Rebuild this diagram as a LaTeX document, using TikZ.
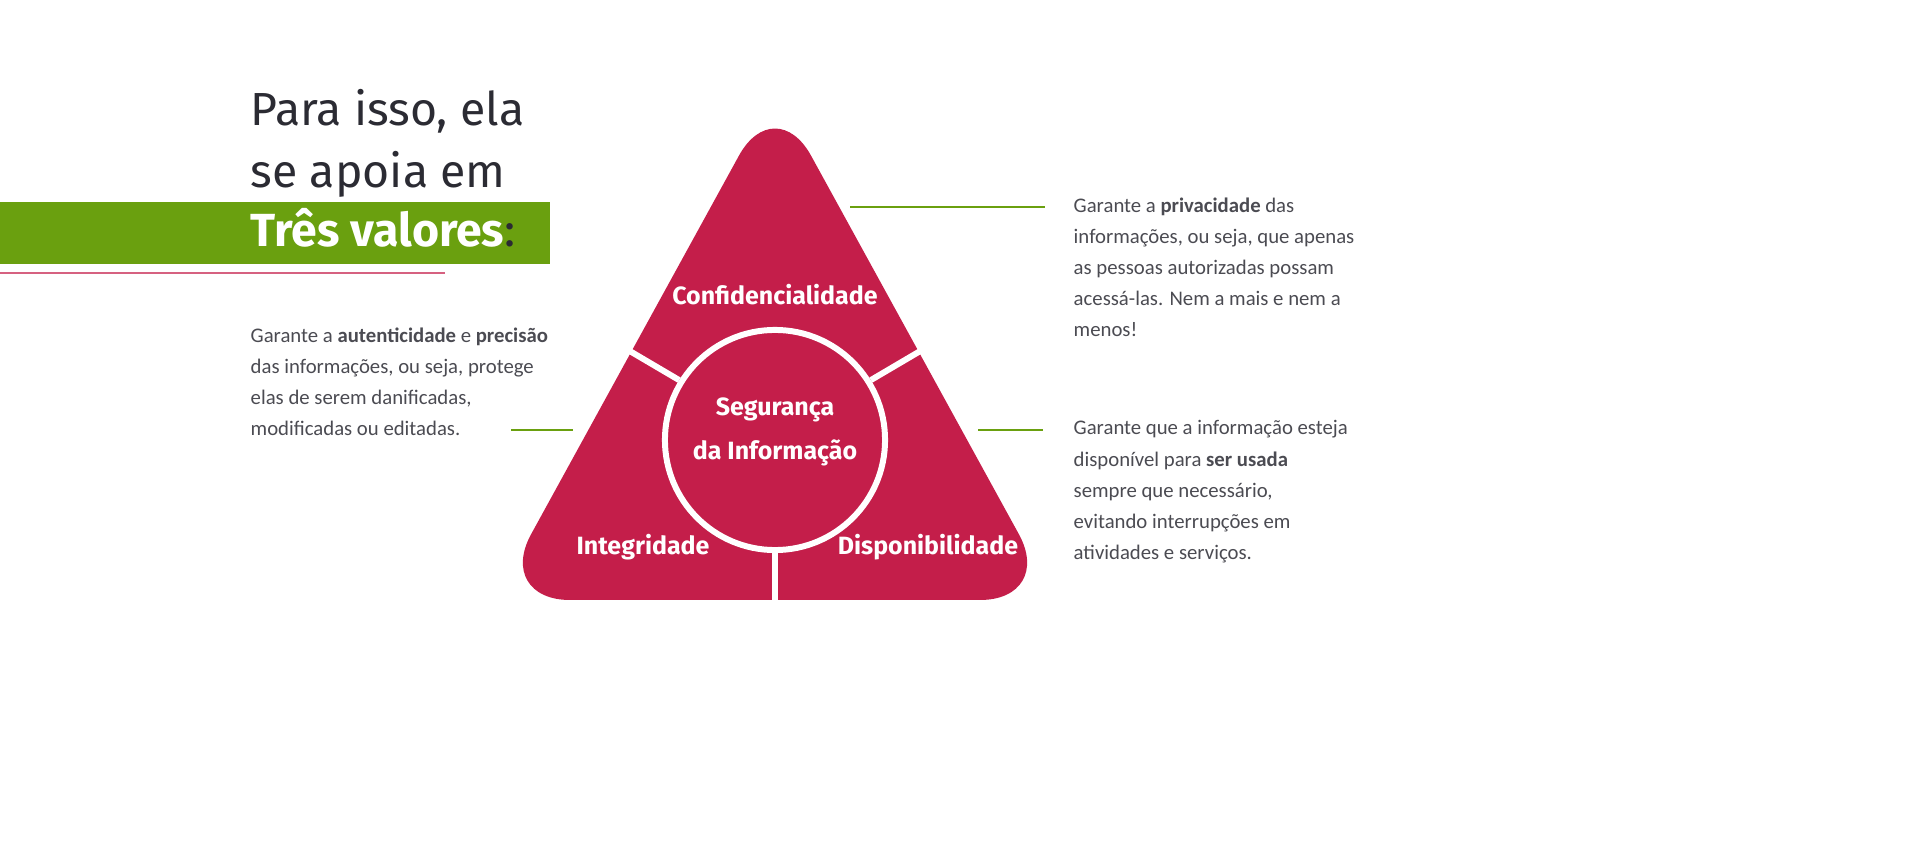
\documentclass[tikz,border=0pt]{standalone}
\usepackage{fontspec}
\setmainfont{Carlito}
\newfontfamily\headfont{Fira Sans}
\usetikzlibrary{positioning}
\definecolor{crimson}{HTML}{C41E4A}
\definecolor{leaf}{HTML}{6AA00F}
\definecolor{ink}{HTML}{2B2B33}
\tikzset{
  body/.style={anchor=north west, align=left, inner sep=0pt, text=ink!85,
    font=\fontsize{5.9pt}{8.85pt}\selectfont},
  piece/.style={text=white, font=\headfont\bfseries\fontsize{7.1pt}{9.6pt}\selectfont},
  heading/.style={anchor=base west, inner sep=0pt, text=ink, font=\headfont\fontsize{13.2pt}{16pt}\selectfont},
  divider/.style={white, line width=1.7pt},
  lead/.style={leaf, line width=0.6pt}
}
\begin{document}
\begin{tikzpicture}[x=0.01cm,y=-0.01cm]
\useasboundingbox (0,0) rectangle (1917,855);

% heading
\node[heading] (title1) at (250,126) {Para isso, ela};
\node[heading] (title2) at (250,188) {se apoia em};
\fill[leaf] (0,202) rectangle (550,264);
\node[heading, font=\headfont\bfseries\fontsize{13.2pt}{16pt}\selectfont] (title3) at (250,247) {\textcolor{white}{Três valores}\textcolor{ink}{\mdseries:}};
\draw[crimson!70, line width=0.5pt] (0,273) -- (445,273);

% triangle
\fill[crimson, rounded corners=0.75cm] (775,90) -- (1055,600) -- (495,600) -- cycle;
\node[circle, draw=white, line width=1.7pt, minimum size=2.2cm, fill=crimson] (core) at (775,440) {};
\node[piece, align=center] (coreText) at (775,432) {Segurança\\[3pt]da Informação};
\coordinate (cutL) at (628,350);
\coordinate (cutR) at (922,350);
\coordinate (cutB) at (775,602);
\draw[divider] (core.148) -- (cutL);
\draw[divider] (core.32) -- (cutR);
\draw[divider] (core.south) -- (cutB);
\node[piece] (conf) at (775,295) {Confidencialidade};
\node[piece] (integ) at (643,547) {Integridade};
\node[piece] (disp) at (928,547) {Disponibilidade};

% left text
\node[body] (integText) at (250,327) {Garante a \textbf{autenticidade} e \textbf{precisão}\\das informações, ou seja, protege\\elas de serem danificadas,\\modificadas ou editadas.};
\coordinate (integA) at (511,430);
\coordinate (integB) at (573,430);
\draw[lead] (integA) -- (integB);

% right text
\node[body] (confText) at (1073,197) {Garante a \textbf{privacidade} das\\informações, ou seja, que apenas\\as pessoas autorizadas possam\\acessá-las. Nem a mais e nem a\\menos!};
\coordinate (confA) at (850,207);
\draw[lead] (confA) -- (1045,207);
\node[body] (dispText) at (1073,420) {Garante que a informação esteja\\disponível para \textbf{ser usada}\\sempre que necessário,\\evitando interrupções em\\atividades e serviços.};
\coordinate (dispA) at (978,430);
\draw[lead] (dispA) -- (1043,430);
\end{tikzpicture}
\end{document}
